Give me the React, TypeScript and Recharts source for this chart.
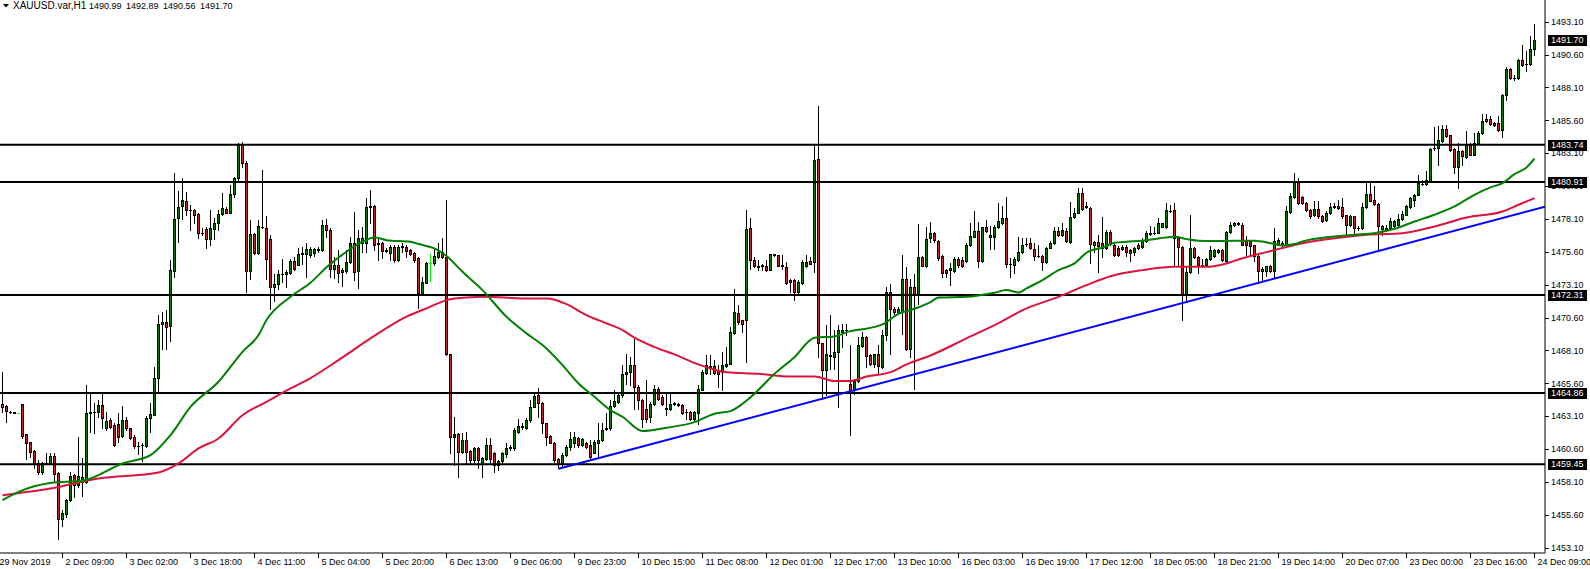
import React from 'react';
import { ComposedChart, Bar, Line, XAxis, YAxis, ReferenceLine } from 'recharts';

// ---------- data (XAUUSD H1) ----------
const open = [
  1464.02,1463.87,1463.45,1463.40,1463.36,1464.02,1461.74,1461.13,1460.47,1459.56,
  1458.87,1459.56,1459.51,1460.09,1458.82,1455.25,1455.70,1456.71,1458.62,1457.86,
  1458.11,1458.11,1463.31,1463.41,1463.43,1463.94,1462.17,1462.80,1462.47,1462.50,
  1461.58,1462.80,1462.17,1461.53,1460.84,1460.88,1460.82,1462.93,1463.23,1465.97,
  1470.08,1470.28,1469.95,1474.16,1478.14,1479.08,1479.48,1478.79,1478.77,1478.44,
  1477.07,1477.33,1476.54,1477.33,1477.83,1478.44,1478.82,1478.57,1479.99,1481.18,
  1483.71,1482.37,1474.16,1476.95,1475.53,1477.52,1477.45,1476.57,1472.89,1473.14,
  1473.88,1473.90,1474.00,1474.89,1474.59,1475.45,1475.47,1475.35,1475.48,1475.76,
  1475.73,1477.63,1477.25,1474.26,1474.59,1474.09,1474.16,1474.85,1476.24,1474.16,
  1476.24,1476.24,1479.00,1479.08,1476.22,1476.24,1475.70,1475.53,1475.99,1474.97,
  1475.97,1475.99,1475.73,1475.53,1475.10,1472.44,1473.25,1474.72,1474.72,1475.23,
  1475.61,1475.23,1467.82,1461.54,1461.74,1460.40,1461.29,1460.47,1459.76,1460.65,
  1459.46,1459.81,1460.88,1460.27,1459.38,1459.71,1460.22,1460.78,1460.65,1461.92,
  1462.28,1462.17,1462.81,1463.82,1464.71,1464.12,1462.55,1461.59,1461.08,1459.81,
  1459.51,1460.14,1460.78,1461.03,1461.41,1460.91,1461.03,1460.91,1460.32,1461.03,
  1461.29,1462.15,1462.17,1463.87,1464.20,1464.68,1466.28,1466.45,1466.96,1465.31,
  1464.35,1463.67,1463.03,1464.05,1465.19,1464.55,1463.65,1463.67,1464.03,1463.98,
  1463.92,1463.39,1463.41,1462.91,1463.34,1465.11,1466.38,1466.87,1466.89,1466.53,
  1466.45,1466.89,1467.09,1469.42,1470.97,1470.38,1470.38,1477.43,1475.00,1474.47,
  1474.54,1474.56,1474.24,1475.36,1475.33,1474.58,1474.44,1473.48,1473.48,1472.54,
  1473.22,1474.52,1474.90,1474.82,1482.68,1468.68,1466.58,1467.70,1467.59,1467.98,
  1469.50,1469.65,1465.52,1465.11,1465.77,1468.41,1469.11,1467.72,1467.04,1467.80,
  1466.83,1469.24,1472.54,1471.27,1471.02,1471.02,1473.55,1468.23,1472.92,1472.36,
  1475.20,1474.56,1476.62,1477.05,1476.44,1475.28,1474.21,1474.21,1474.16,1475.03,
  1474.97,1474.92,1476.09,1476.75,1477.18,1474.92,1477.46,1476.75,1476.70,1477.46,
  1477.76,1478.14,1474.65,1474.59,1474.97,1475.61,1476.17,1476.24,1475.78,1475.30,
  1475.28,1474.84,1475.93,1476.24,1477.20,1476.87,1477.20,1476.37,1478.22,1478.57,
  1480.04,1479.01,1478.90,1476.11,1476.37,1476.29,1475.86,1477.13,1476.11,1475.86,
  1475.78,1475.99,1475.73,1475.61,1476.11,1475.99,1476.44,1476.98,1477.03,1477.05,
  1477.51,1477.46,1478.70,1478.77,1476.62,1475.99,1472.31,1474.08,1475.86,1475.23,
  1474.57,1474.59,1475.02,1475.28,1475.61,1475.73,1474.92,1477.13,1477.63,1477.71,
  1477.66,1476.39,1476.39,1476.09,1475.25,1474.11,1474.11,1474.56,1474.11,1476.14,
  1476.09,1476.14,1478.62,1479.74,1480.95,1479.74,1479.31,1478.80,1478.42,1478.88,
  1478.34,1478.04,1478.55,1479.03,1479.05,1478.98,1478.37,1477.61,1478.29,1477.42,
  1477.40,1478.98,1480.01,1479.56,1479.23,1477.36,1477.28,1477.40,1477.53,1477.61,
  1478.11,1478.42,1478.98,1479.56,1479.94,1480.73,1480.75,1481.00,1483.47,1483.49,
  1484.05,1484.96,1484.45,1483.44,1482.02,1483.29,1482.78,1483.74,1482.98,1483.87,
  1484.63,1485.72,1485.72,1485.39,1485.39,1484.88,1487.54,1489.52,1488.79,1488.81,
  1490.21,1489.86,1489.88,1490.99,
];
const high = [
  1466.48,1463.94,1463.50,1463.45,1463.38,1464.05,1461.75,1461.15,1460.50,1459.76,
  1459.63,1460.32,1460.32,1460.32,1458.87,1455.96,1456.84,1458.87,1458.74,1461.53,
  1459.96,1465.46,1464.95,1464.12,1464.32,1464.88,1463.43,1463.00,1462.55,1463.36,
  1463.87,1463.05,1462.20,1461.66,1461.15,1461.03,1463.10,1464.07,1466.81,1470.79,
  1471.04,1471.16,1474.97,1481.61,1480.24,1481.18,1480.16,1479.15,1478.82,1478.57,
  1477.38,1477.50,1478.77,1478.21,1478.77,1480.09,1479.02,1480.67,1481.30,1483.89,
  1483.94,1482.47,1478.01,1477.00,1478.01,1481.81,1478.32,1476.87,1473.90,1474.21,
  1475.09,1474.21,1475.09,1475.22,1475.93,1475.98,1476.29,1475.99,1475.86,1475.99,
  1478.01,1478.06,1477.38,1475.22,1475.73,1474.34,1475.73,1476.75,1478.65,1477.25,
  1477.51,1479.66,1480.30,1479.15,1476.75,1476.37,1475.86,1476.11,1476.11,1476.11,
  1476.24,1476.11,1475.78,1475.61,1475.23,1473.70,1474.85,1475.43,1475.86,1476.24,
  1476.62,1479.54,1467.85,1463.06,1461.79,1461.79,1461.92,1460.52,1460.78,1460.78,
  1460.01,1461.41,1461.41,1460.40,1459.76,1460.40,1461.03,1460.91,1462.17,1462.86,
  1462.55,1462.93,1464.33,1464.83,1465.21,1464.20,1462.60,1461.66,1461.16,1459.89,
  1460.27,1460.91,1461.92,1461.92,1461.54,1461.41,1461.16,1461.29,1461.29,1462.55,
  1462.55,1463.31,1464.33,1465.09,1464.83,1466.96,1467.85,1467.59,1468.99,1465.44,
  1464.42,1465.82,1464.17,1465.44,1465.31,1464.68,1464.93,1464.93,1464.17,1464.12,
  1464.05,1463.67,1463.49,1463.49,1465.44,1466.58,1467.72,1467.72,1467.34,1466.96,
  1467.98,1468.36,1469.88,1472.79,1471.53,1470.43,1478.80,1478.19,1475.20,1474.95,
  1474.69,1474.95,1475.45,1475.45,1475.38,1475.33,1474.82,1473.55,1473.55,1473.43,
  1474.95,1475.33,1475.20,1483.69,1486.66,1468.70,1470.00,1470.76,1469.67,1470.00,
  1470.13,1470.13,1468.48,1465.95,1469.11,1469.50,1469.17,1467.85,1467.85,1468.48,
  1469.62,1472.92,1473.17,1471.40,1471.40,1475.33,1474.44,1473.55,1473.93,1477.73,
  1475.25,1477.48,1477.89,1477.13,1476.49,1475.35,1474.26,1474.72,1475.18,1475.18,
  1475.18,1476.24,1477.81,1478.72,1477.89,1477.51,1478.01,1477.56,1477.63,1479.28,
  1479.08,1479.79,1475.10,1475.18,1476.75,1476.62,1476.62,1476.62,1476.24,1476.11,
  1475.35,1475.99,1476.44,1477.51,1477.51,1477.76,1477.38,1479.41,1478.90,1480.42,
  1480.42,1479.41,1478.98,1476.44,1476.87,1478.27,1477.25,1477.25,1476.19,1476.04,
  1476.09,1476.11,1475.78,1475.99,1476.29,1476.62,1477.20,1477.56,1477.51,1478.14,
  1477.81,1479.28,1479.15,1479.28,1476.75,1476.04,1474.46,1478.39,1475.99,1475.28,
  1475.02,1475.10,1476.04,1475.78,1475.78,1475.78,1477.20,1477.89,1477.89,1477.89,
  1477.78,1476.77,1476.44,1476.14,1475.33,1474.41,1474.56,1474.61,1477.40,1476.69,
  1476.39,1479.05,1480.06,1481.59,1481.21,1479.81,1479.38,1478.87,1479.43,1479.43,
  1478.42,1478.67,1479.31,1479.31,1479.56,1479.69,1478.42,1478.37,1478.35,1477.53,
  1479.31,1480.83,1480.83,1480.57,1479.31,1477.61,1477.66,1478.21,1478.04,1478.47,
  1478.67,1479.13,1479.74,1479.99,1481.41,1481.08,1481.71,1483.49,1485.06,1485.14,
  1485.26,1485.26,1484.50,1483.49,1483.87,1483.36,1484.81,1483.87,1484.63,1484.76,
  1486.08,1486.08,1485.90,1485.46,1485.90,1487.59,1489.62,1489.57,1489.01,1490.26,
  1491.30,1490.89,1491.98,1492.89,
];
const low = [
  1463.43,1462.67,1463.35,1463.33,1463.34,1461.48,1459.81,1460.01,1459.20,1458.67,
  1458.74,1459.43,1459.43,1458.11,1453.80,1454.74,1455.45,1456.66,1456.97,1457.73,
  1457.02,1458.03,1461.91,1461.79,1463.05,1462.17,1462.04,1462.17,1460.82,1461.15,
  1461.53,1462.04,1461.40,1460.65,1460.26,1459.71,1460.77,1461.91,1463.18,1464.83,
  1468.25,1468.25,1468.83,1473.65,1476.36,1478.06,1478.39,1477.25,1477.76,1476.62,
  1476.87,1475.86,1476.11,1476.54,1477.25,1478.39,1478.52,1478.52,1479.78,1481.10,
  1482.07,1472.56,1473.57,1475.42,1475.42,1477.45,1473.50,1471.29,1471.88,1472.74,
  1473.32,1472.94,1473.95,1474.21,1474.59,1474.71,1473.65,1475.23,1475.28,1475.61,
  1475.68,1476.75,1473.70,1473.58,1473.32,1473.00,1473.96,1474.72,1473.45,1472.82,
  1475.61,1475.61,1477.76,1475.73,1474.97,1475.10,1475.61,1474.97,1474.85,1474.92,
  1475.61,1475.23,1475.35,1474.85,1471.35,1472.31,1473.20,1473.40,1474.59,1475.10,
  1475.10,1467.75,1460.27,1459.38,1458.49,1460.27,1459.51,1459.46,1459.63,1459.20,
  1458.49,1459.76,1459.51,1458.87,1459.00,1459.51,1460.02,1460.52,1460.57,1461.79,
  1462.10,1462.10,1462.68,1463.77,1463.06,1461.79,1460.90,1461.03,1459.63,1459.13,
  1459.31,1460.07,1460.52,1460.78,1460.78,1460.83,1460.65,1459.89,1460.27,1460.02,
  1461.23,1462.05,1462.05,1463.82,1464.12,1464.60,1465.57,1465.44,1463.67,1463.67,
  1462.27,1462.65,1462.65,1463.92,1464.30,1463.92,1463.16,1463.59,1463.92,1463.87,
  1463.24,1462.91,1462.83,1462.83,1462.53,1465.06,1466.33,1466.33,1466.33,1465.31,
  1465.06,1466.83,1467.04,1469.37,1470.13,1469.50,1467.21,1474.31,1474.44,1474.19,
  1474.19,1474.14,1474.19,1475.25,1474.49,1474.31,1473.17,1472.54,1471.91,1472.46,
  1473.17,1474.44,1474.64,1474.06,1467.59,1464.42,1464.68,1466.71,1466.71,1463.79,
  1468.36,1469.24,1461.64,1464.81,1465.69,1468.36,1466.83,1466.96,1466.83,1466.33,
  1466.78,1468.86,1467.85,1470.89,1470.94,1469.37,1468.10,1467.59,1465.19,1471.65,
  1474.49,1474.44,1476.37,1476.37,1474.97,1473.65,1473.70,1473.07,1474.08,1474.46,
  1474.46,1474.84,1476.04,1476.70,1474.41,1474.84,1477.13,1475.78,1475.78,1477.38,
  1477.71,1474.46,1473.65,1473.96,1474.92,1475.53,1476.04,1475.83,1474.97,1475.18,
  1474.21,1474.77,1475.86,1476.19,1476.80,1476.80,1476.37,1476.29,1478.14,1478.52,
  1478.77,1478.90,1474.72,1475.61,1474.09,1475.18,1475.78,1476.11,1475.28,1475.28,
  1475.73,1475.28,1474.92,1475.35,1475.78,1475.93,1476.37,1476.87,1476.95,1477.00,
  1477.46,1477.38,1478.65,1474.59,1474.59,1470.41,1471.80,1473.96,1475.10,1473.96,
  1474.46,1474.51,1474.97,1475.18,1475.53,1474.92,1474.84,1477.05,1477.56,1477.63,
  1476.09,1475.38,1475.25,1474.87,1473.22,1473.35,1473.73,1474.06,1473.60,1476.09,
  1476.01,1476.09,1478.54,1479.68,1479.23,1479.23,1478.67,1478.16,1478.34,1478.21,
  1477.86,1477.96,1478.47,1478.93,1478.88,1478.21,1476.90,1477.53,1476.90,1477.28,
  1477.35,1478.93,1479.43,1479.18,1475.76,1476.90,1477.20,1477.35,1477.45,1477.53,
  1478.04,1478.37,1478.93,1479.05,1479.89,1480.65,1480.70,1480.95,1483.36,1482.22,
  1483.99,1484.30,1483.28,1481.59,1480.45,1482.22,1482.73,1482.93,1482.93,1483.79,
  1484.55,1485.46,1485.26,1485.14,1484.80,1484.30,1487.16,1488.76,1488.68,1488.76,
  1489.70,1489.37,1489.82,1490.56,
];
const close = [
  1463.81,1463.51,1463.43,1463.38,1463.36,1461.63,1461.10,1460.39,1459.51,1458.87,
  1459.56,1459.58,1460.09,1458.74,1455.25,1455.75,1456.71,1458.54,1457.86,1458.54,
  1458.49,1463.36,1463.41,1463.45,1463.94,1462.93,1462.72,1462.29,1460.90,1461.53,
  1462.80,1462.17,1461.48,1460.82,1460.80,1460.92,1462.93,1463.26,1465.97,1470.08,
  1470.28,1469.90,1474.21,1478.06,1479.03,1479.53,1478.77,1478.75,1478.39,1477.05,
  1477.03,1476.54,1477.38,1477.83,1478.44,1478.90,1478.57,1479.99,1481.18,1483.71,
  1482.32,1474.16,1476.95,1475.53,1477.55,1477.48,1475.07,1472.89,1473.14,1473.90,
  1473.92,1474.08,1474.89,1474.26,1475.47,1475.49,1475.80,1475.78,1475.78,1475.80,
  1477.63,1477.25,1474.26,1474.59,1473.96,1474.21,1474.85,1476.24,1474.09,1476.62,
  1476.62,1478.98,1479.05,1476.11,1476.26,1475.68,1475.75,1475.99,1474.97,1475.99,
  1476.01,1475.68,1475.43,1474.97,1472.44,1473.27,1474.77,1474.72,1475.28,1475.61,
  1475.18,1467.82,1461.54,1461.74,1460.40,1461.29,1460.40,1459.76,1460.65,1459.76,
  1459.89,1460.88,1459.81,1459.38,1459.71,1460.27,1460.65,1460.65,1462.05,1462.35,
  1462.32,1462.81,1463.82,1464.63,1464.12,1462.55,1461.54,1461.08,1459.76,1459.46,
  1460.14,1460.78,1461.34,1461.54,1460.91,1461.34,1460.78,1460.02,1461.16,1461.29,
  1462.05,1462.19,1463.87,1464.27,1464.71,1466.33,1466.45,1466.96,1465.31,1464.35,
  1462.91,1462.91,1464.05,1465.19,1464.43,1464.05,1463.69,1464.05,1464.07,1464.02,
  1463.34,1463.43,1462.91,1463.41,1465.14,1466.45,1466.96,1466.91,1466.38,1466.33,
  1466.96,1467.09,1469.50,1471.02,1470.26,1470.13,1477.35,1475.00,1474.49,1474.51,
  1474.58,1474.24,1475.40,1475.40,1474.56,1474.54,1473.22,1473.30,1472.54,1473.30,
  1474.82,1474.82,1474.69,1482.60,1468.66,1466.58,1467.80,1467.74,1467.98,1469.62,
  1469.67,1469.69,1465.11,1465.77,1468.48,1469.11,1467.65,1467.09,1467.80,1466.89,
  1469.24,1472.54,1471.27,1471.02,1471.27,1473.55,1468.23,1472.92,1472.36,1475.20,
  1474.56,1476.59,1477.05,1476.49,1475.10,1474.01,1474.01,1474.34,1475.03,1474.59,
  1474.51,1476.11,1476.80,1477.18,1474.92,1477.46,1477.20,1476.87,1477.51,1477.94,
  1478.14,1474.67,1474.69,1475.05,1475.61,1476.11,1476.21,1475.91,1475.28,1475.26,
  1474.84,1475.93,1476.24,1477.20,1476.87,1477.25,1476.44,1478.22,1478.57,1480.04,
  1478.83,1479.05,1476.19,1476.37,1476.04,1475.86,1477.13,1476.19,1475.35,1475.35,
  1475.99,1475.61,1475.48,1475.93,1475.86,1476.49,1477.00,1477.02,1477.07,1477.76,
  1477.76,1478.77,1478.74,1476.62,1475.99,1472.31,1474.08,1475.86,1475.18,1474.59,
  1474.61,1475.02,1475.73,1475.73,1475.73,1474.97,1477.13,1477.63,1477.81,1477.81,
  1476.14,1476.14,1476.01,1475.25,1474.11,1474.31,1474.49,1474.11,1476.44,1476.52,
  1476.27,1478.67,1479.81,1481.00,1479.31,1479.31,1478.80,1478.29,1478.88,1478.29,
  1477.96,1478.55,1478.98,1479.07,1478.93,1478.29,1477.66,1478.29,1477.40,1477.38,
  1479.00,1480.01,1479.48,1479.23,1477.53,1477.53,1477.40,1477.96,1477.96,1478.11,
  1478.47,1479.05,1479.69,1479.94,1480.83,1480.77,1481.08,1483.44,1483.51,1484.12,
  1484.96,1484.38,1483.36,1482.02,1483.24,1482.86,1483.74,1482.98,1483.87,1484.63,
  1485.57,1485.52,1485.31,1485.26,1484.88,1487.54,1489.52,1488.81,1488.83,1490.21,
  1489.77,1489.90,1491.04,1491.70,
];

// Moving averages: [bar index, price]
const greenMA: [number, number][] = [
  [0,1456.72],[4,1457.35],[12,1458.03],[20,1458.19],[30,1459.51],[37,1460.14],[42,1461.66],
  [47,1463.81],[54,1465.72],[60,1468.00],[64,1469.27],[66,1470.41],[72,1472.18],[77,1473.25],
  [81,1474.42],[86,1475.61],[90,1476.37],[93,1476.70],[96,1476.49],[102,1476.37],[104,1476.19],
  [108,1475.86],[111,1475.28],[115,1474.08],[120,1472.69],[126,1470.66],[131,1469.40],
  [135,1468.51],[140,1466.99],[144,1465.59],[148,1464.58],[152,1463.57],[155,1463.06],
  [160,1461.97],[166,1462.22],[173,1462.65],[178,1463.29],[182,1463.49],[185,1464.05],
  [188,1464.81],[193,1466.33],[198,1467.59],[203,1469.07],[208,1469.17],[212,1469.57],
  [214,1469.67],[220,1470.08],[224,1470.89],[228,1471.27],[232,1471.78],[234,1472.13],
  [241,1472.18],[248,1472.49],[251,1472.69],[254,1472.51],[256,1472.82],[260,1473.45],
  [264,1474.21],[268,1474.72],[271,1475.53],[275,1475.93],[278,1476.29],[281,1476.37],
  [285,1476.44],[289,1476.62],[293,1476.75],[296,1476.57],[299,1476.44],[303,1476.42],
  [308,1476.44],[313,1476.44],[317,1476.26],[320,1476.09],[323,1476.19],[325,1476.39],
  [333,1476.77],[338,1476.90],[343,1477.02],[348,1477.35],[353,1477.91],[358,1478.42],
  [363,1479.05],[368,1479.94],[372,1480.50],[375,1480.83],[378,1481.51],[381,1482.02],
  [383,1482.68],
];
const redMA: [number, number][] = [
  [0,1457.10],[12,1457.60],[24,1458.36],[39,1458.82],[44,1459.51],[49,1460.65],[54,1461.41],
  [60,1463.18],[66,1464.20],[72,1465.21],[77,1466.00],[84,1467.37],[92,1469.02],[101,1470.67],
  [106,1471.30],[111,1471.93],[116,1472.13],[121,1472.18],[130,1472.06],[136,1472.06],
  [141,1471.63],[146,1470.79],[151,1470.16],[155,1469.65],[158,1469.07],[163,1468.36],
  [168,1467.80],[174,1467.04],[181,1466.45],[189,1466.33],[197,1466.12],[203,1466.12],
  [208,1465.77],[212,1465.77],[216,1466.12],[222,1466.45],[226,1467.04],[232,1467.72],
  [241,1469.02],[248,1470.03],[256,1471.30],[264,1472.18],[271,1473.07],[277,1473.75],
  [285,1474.21],[293,1474.46],[301,1474.46],[306,1474.72],[309,1475.02],[316,1475.58],
  [325,1476.26],[333,1476.64],[341,1476.90],[350,1477.02],[358,1477.53],[366,1478.21],
  [375,1478.67],[379,1479.18],[383,1479.69],
];
const trendLine: [number, number][] = [[139, 1459.1], [385.625, 1479.03]];

const levels = [1483.74, 1480.91, 1472.31, 1464.86, 1459.45];
const lastPrice = 1491.70;
const priceTicks = [
  1453.10, 1455.60, 1458.10, 1460.60, 1463.10, 1465.60, 1468.10, 1470.60, 1473.10,
  1475.60, 1478.10, 1480.60, 1483.10, 1485.60, 1488.10, 1490.60, 1493.10,
];
const timeLabels = [
  '29 Nov 2019', '2 Dec 09:00', '3 Dec 02:00', '3 Dec 18:00', '4 Dec 11:00', '5 Dec 04:00',
  '5 Dec 20:00', '6 Dec 13:00', '9 Dec 06:00', '9 Dec 23:00', '10 Dec 15:00', '11 Dec 08:00',
  '12 Dec 01:00', '12 Dec 17:00', '13 Dec 10:00', '16 Dec 03:00', '16 Dec 19:00', '17 Dec 12:00',
  '18 Dec 05:00', '18 Dec 21:00', '19 Dec 14:00', '20 Dec 07:00', '23 Dec 00:00', '23 Dec 16:00',
  '24 Dec 09:00',
];
const labelBars = [
  -1, 15, 31, 47, 63, 79, 95, 111, 127, 143, 159, 175, 191, 207, 223, 239, 255, 271, 287, 303,
  319, 335, 351, 367, 383,
];
const titleSymbol = 'XAUUSD.var,H1';
const titleValues = ['1490.99', '1492.89', '1490.56', '1491.70'];

// ---------- chart setup ----------
const X_DOMAIN: [number, number] = [-0.625, 385.625];
const Y_DOMAIN: [number, number] = [1452.70, 1494.75];
const FONT = '"Liberation Sans", Arial, sans-serif';
const BULL = '#008000';
const BEAR = '#C1272D';

const candles = open.map((o, i) => ({
  i,
  o,
  h: high[i],
  l: low[i],
  c: close[i],
  range: [low[i], high[i]],
}));
const greenData = greenMA.map(([i, v]) => ({ i, v }));
const redData = redMA.map(([i, v]) => ({ i, v }));
const trendData = trendLine.map(([i, v]) => ({ i, v }));
const tickBars = labelBars.map((b) => Math.max(b, X_DOMAIN[0]));
const tagValues = [...levels, lastPrice];
// regular ticks first, tags last so the tags are painted on top
const yTicks = [...priceTicks, ...tagValues];

const Candle = (props: any) => {
  const { x, y, width, height, payload } = props;
  if (!payload || x == null || y == null) return null;
  const { o, h, l, c } = payload;
  const top = Math.min(y, y + height);
  const span = Math.abs(height);
  const py = (v: number) => (h === l ? top : top + ((h - v) / (h - l)) * span);
  const cx = Math.floor(x + width / 2) + 0.5;
  const hi = Math.max(h, o, c);
  const lo = Math.min(l, o, c);
  if (o === c) {
    const yy = Math.round(py(o)) + 0.5;
    return (
      <g shapeRendering="crispEdges">
        <line x1={cx} x2={cx} y1={Math.round(py(hi))} y2={Math.round(py(lo)) + 1} stroke="#00ff00" />
        <line x1={cx - 1.5} x2={cx + 1.5} y1={yy} y2={yy} stroke="#00ff00" />
      </g>
    );
  }
  const yTop = Math.round(py(Math.max(o, c))) + 0.5;
  const yBot = Math.round(py(Math.min(o, c))) + 0.5;
  const bull = c > o;
  return (
    <g shapeRendering="crispEdges">
      <line x1={cx} x2={cx} y1={Math.round(py(hi))} y2={Math.round(py(lo)) + 1} stroke="#000" />
      {yBot - yTop >= 1 ? (
        <rect x={cx - 1} y={yTop} width={2} height={yBot - yTop} fill={bull ? BULL : BEAR} stroke="#000" strokeWidth={1} />
      ) : (
        <line x1={cx - 1.5} x2={cx + 1.5} y1={yTop} y2={yTop} stroke="#000" />
      )}
    </g>
  );
};

const PriceTick = (props: any) => {
  const { x, y, payload } = props;
  const axisX = x - 6;
  const v = Number(payload.value);
  if (tagValues.includes(v)) {
    const yy = Math.round(y);
    return (
      <g>
        <rect x={axisX + 3} y={yy - 5} width={39} height={11} fill="#000" />
        <text x={axisX + 6} y={yy} dy="0.38em" fontSize={9} fill="#fff" fontFamily={FONT} textAnchor="start">
          {v.toFixed(2)}
        </text>
      </g>
    );
  }
  return (
    <g>
      <line x1={axisX} x2={axisX + 4} y1={Math.round(y) + 0.5} y2={Math.round(y) + 0.5} stroke="#000" shapeRendering="crispEdges" />
      <text x={axisX + 6} y={y} dy="0.36em" fontSize={9} fill="#000" fontFamily={FONT} textAnchor="start">
        {v.toFixed(2)}
      </text>
    </g>
  );
};

const TimeTick = (props: any) => {
  const { x, y, payload } = props;
  const idx = tickBars.indexOf(payload.value);
  if (idx < 0) return null;
  const axisY = y - 6;
  const clamped = tickBars[idx] !== labelBars[idx];
  const lx = Math.floor(x) + 0.5;
  return (
    <g>
      {!clamped && <line x1={lx} x2={lx} y1={axisY} y2={axisY + 5} stroke="#000" shapeRendering="crispEdges" />}
      <text x={clamped ? x - 0.5 : x + 3} y={axisY + 12} fontSize={9} fill="#000" fontFamily={FONT} textAnchor="start">
        {timeLabels[idx]}
      </text>
    </g>
  );
};

const titleStyle: React.CSSProperties = {
  position: 'absolute',
  top: 1,
  fontFamily: FONT,
  fontSize: 9,
  lineHeight: '10px',
  whiteSpace: 'pre',
  color: '#000',
};

export default function App() {
  return (
    <div style={{ position: 'absolute', left: 0, top: 0, width: 1590, height: 569, background: '#fff', overflow: 'hidden' }}>
      <ComposedChart width={1590} height={569} data={candles} margin={{ top: 0, right: 0, bottom: 0, left: 0 }}>
        <XAxis
          type="number"
          dataKey="i"
          domain={X_DOMAIN}
          allowDataOverflow
          ticks={tickBars}
          interval={0}
          height={16}
          tickSize={4}
          tickMargin={2}
          tickLine={false}
          axisLine={{ stroke: '#000' }}
          tick={<TimeTick />}
        />
        <YAxis
          orientation="right"
          type="number"
          domain={Y_DOMAIN}
          allowDataOverflow
          ticks={yTicks}
          interval={0}
          width={45}
          tickSize={4}
          tickMargin={2}
          tickLine={false}
          axisLine={{ stroke: '#000' }}
          tick={<PriceTick />}
        />
        {levels.map((lv) => (
          <ReferenceLine key={lv} y={lv} stroke="#000" strokeWidth={2} />
        ))}
        <Bar dataKey="range" barSize={3} isAnimationActive={false} shape={(p: any) => <Candle {...p} />} />
        <Line data={redData} dataKey="v" type="monotone" stroke="#DC143C" strokeWidth={2} dot={false} activeDot={false} isAnimationActive={false} />
        <Line data={greenData} dataKey="v" type="monotone" stroke="#008000" strokeWidth={2} dot={false} activeDot={false} isAnimationActive={false} />
        <Line data={trendData} dataKey="v" type="linear" stroke="#0000FF" strokeWidth={2} dot={false} activeDot={false} isAnimationActive={false} />
      </ComposedChart>
      <svg style={{ position: 'absolute', left: 0, top: 0 }} width={12} height={12}>
        <polygon points="3,4 9,4 6,7.5" fill="#000" />
      </svg>
      <div style={{ ...titleStyle, left: 13, fontSize: 10 }}>{titleSymbol}</div>
      {titleValues.map((t, k) => (
        <div key={t + k} style={{ ...titleStyle, left: 89 + k * 37 }}>
          {t}
        </div>
      ))}
    </div>
  );
}
